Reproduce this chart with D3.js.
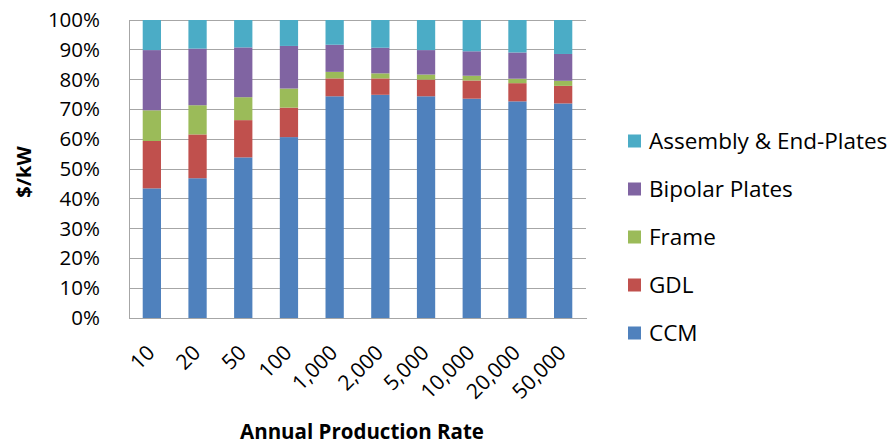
<!DOCTYPE html>
<html>
<head>
<meta charset="utf-8">
<script src="https://cdnjs.cloudflare.com/ajax/libs/d3/7.8.5/d3.min.js"></script>
<style>
  html, body { margin: 0; padding: 0; background: #fff; }
  svg { display: block; font-family: "Open Sans", sans-serif; }
</style>
</head>
<body>
<svg id="chart" width="895" height="447"></svg>
<script>
// Annual production rates (x categories)
const categories = ["10", "20", "50", "100", "1,000", "2,000", "5,000", "10,000", "20,000", "50,000"];

// Share of stack cost ($/kW) by component, percent
const ccm      = [43.5, 46.9, 53.9, 60.7, 74.4, 74.9, 74.4, 73.6, 72.7, 72.0];
const gdl      = [15.9, 14.7, 12.5,  9.9,  6.0,  5.5,  5.6,  6.1,  6.1,  5.9];
const frame    = [10.3,  9.8,  7.7,  6.4,  2.2,  1.7,  1.7,  1.6,  1.5,  1.7];
const bipolar  = [20.2, 19.0, 16.7, 14.3,  9.1,  8.6,  8.2,  8.2,  8.8,  9.0];
const assembly = [10.1,  9.6,  9.2,  8.7,  8.3,  9.3, 10.1, 10.5, 10.9, 11.4];

const seriesNames = ["CCM", "GDL", "Frame", "Bipolar Plates", "Assembly & End-Plates"];
const seriesColors = ["#4F81BD", "#C0504D", "#9BBB59", "#8064A2", "#4BACC6"];
const yTicks = [0, 10, 20, 30, 40, 50, 60, 70, 80, 90, 100];

const rows = categories.map((c, i) => ({
  cat: c,
  "CCM": ccm[i],
  "GDL": gdl[i],
  "Frame": frame[i],
  "Bipolar Plates": bipolar[i],
  "Assembly & End-Plates": assembly[i]
}));

// Normalise each column to 100% like a percent-stacked column chart
const stacked = d3.stack().keys(seriesNames).offset(d3.stackOffsetExpand)(rows);

const svg = d3.select("#chart");
const plot = { left: 129, right: 586, top: 20, bottom: 318 };

const x = d3.scaleBand().domain(categories).range([plot.left, plot.right]).paddingInner(0.6).paddingOuter(0.3);
const y = d3.scaleLinear().domain([0, 1]).range([plot.bottom, plot.top]);

// Horizontal gridlines
svg.append("g")
  .selectAll("line")
  .data(yTicks)
  .join("line")
  .attr("x1", plot.left).attr("x2", plot.right)
  .attr("y1", d => y(d / 100)).attr("y2", d => y(d / 100))
  .attr("stroke", "#A6A6A6").attr("stroke-width", 1)
  .attr("shape-rendering", "crispEdges");

// Stacked columns
svg.append("g")
  .selectAll("g")
  .data(stacked)
  .join("g")
  .attr("fill", (d, i) => seriesColors[i])
  .selectAll("rect")
  .data(d => d)
  .join("rect")
  .attr("x", d => x(d.data.cat))
  .attr("width", x.bandwidth())
  .attr("y", d => y(d[1]))
  .attr("height", d => y(d[0]) - y(d[1]));

// Y axis
const yAxis = svg.append("g")
  .attr("transform", `translate(${plot.left},0)`)
  .call(d3.axisLeft(y).tickValues(yTicks.map(v => v / 100)).tickFormat(d3.format(".0%")).tickSize(0).tickPadding(29));
yAxis.select(".domain").attr("stroke", "#A6A6A6").attr("shape-rendering", "crispEdges");
yAxis.selectAll("text").attr("font-size", 20.5).attr("fill", "#000").attr("font-family", "'Open Sans', sans-serif");

// X axis
const xAxis = svg.append("g")
  .attr("transform", `translate(0,${plot.bottom})`)
  .call(d3.axisBottom(x).tickSize(0).tickFormat(d => d));
xAxis.select(".domain").attr("stroke", "#A6A6A6").attr("shape-rendering", "crispEdges");
xAxis.selectAll("text")
  .attr("font-size", 21).attr("fill", "#000").attr("font-family", "'Open Sans', sans-serif")
  .attr("text-anchor", "end")
  .attr("dy", null).attr("y", null)
  .attr("transform", `translate(${x.bandwidth() / 2 - 5},${36}) rotate(-45)`);

// Axis titles
svg.append("text")
  .attr("transform", "translate(31,172) rotate(-90)")
  .attr("text-anchor", "middle")
  .attr("font-size", 20).attr("font-weight", "bold")
  .text("$/kW");

svg.append("text")
  .attr("x", 362).attr("y", 439)
  .attr("text-anchor", "middle")
  .attr("font-size", 20.5).attr("font-weight", "bold")
  .text("Annual Production Rate");

// Legend, top entry is the top of the stack
const legend = svg.append("g")
  .selectAll("g")
  .data(seriesNames.slice().reverse())
  .join("g")
  .attr("transform", (d, i) => `translate(628,${141 + i * 48})`);
legend.append("rect")
  .attr("x", 0).attr("y", -6.5).attr("width", 13).attr("height", 13)
  .attr("fill", d => seriesColors[seriesNames.indexOf(d)]);
legend.append("text")
  .attr("x", 21).attr("y", 0).attr("dy", "0.35em")
  .attr("font-size", 22.5).attr("fill", "#000")
  .text(d => d);
</script>
</body>
</html>
